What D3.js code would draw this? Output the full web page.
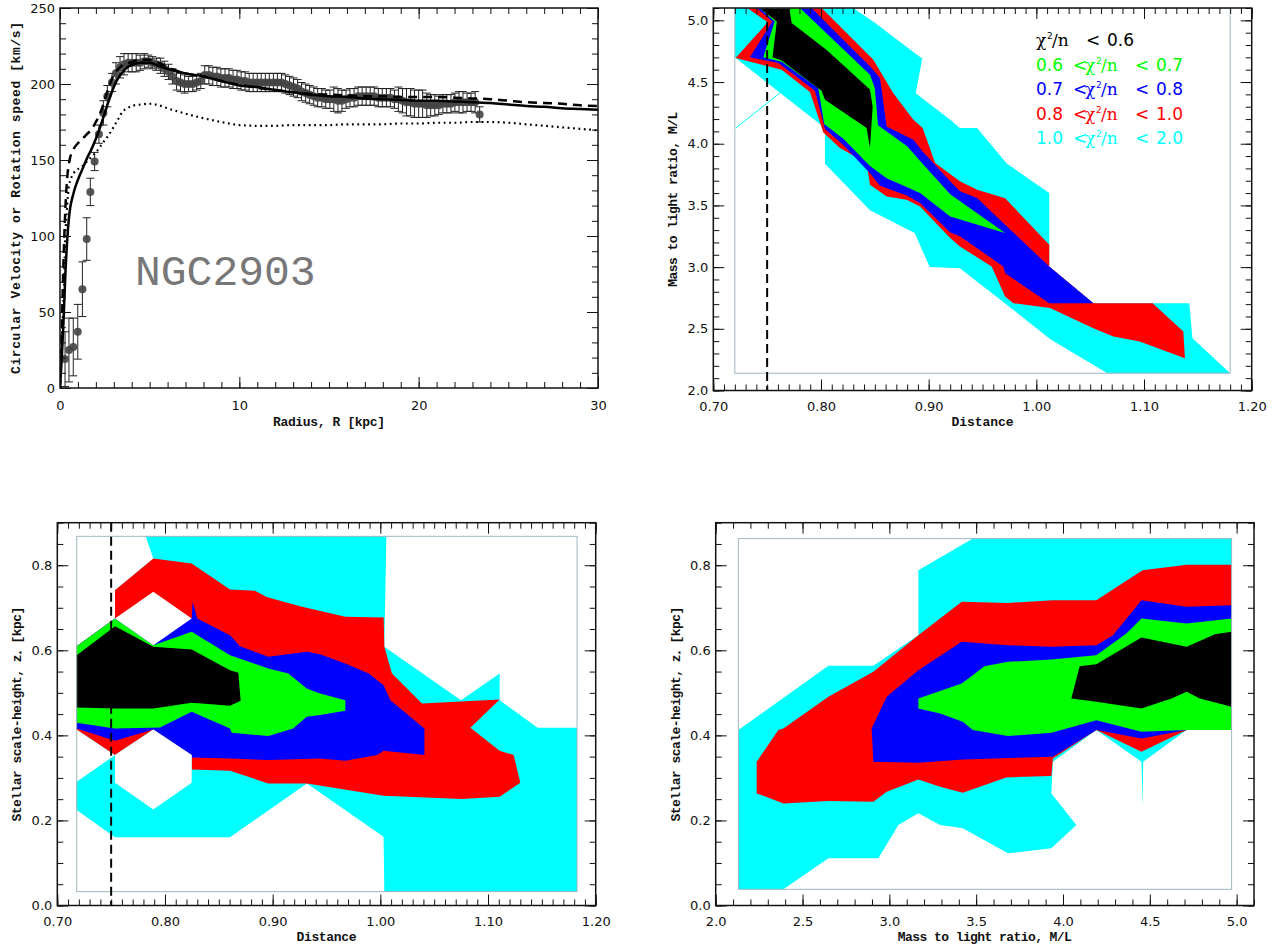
<!DOCTYPE html>
<html>
<head>
<meta charset="UTF-8">
<title>NGC2903 rotation curve and chi2 maps</title>
<script src="https://d3js.org/d3.v7.min.js"></script>
<style>
  body { margin: 0; background: #fff; }
  svg { display: block; }
  .axis .domain { display: none; }
  .axis line { stroke: #111; stroke-width: 1; }
  .axis text { font-family: "DejaVu Sans", sans-serif; font-size: 13px; fill: #111; }
  .frame { fill: none; stroke: #111; stroke-width: 1.5; }
  .title { font-family: "Liberation Mono", monospace; font-weight: bold; font-size: 13px; fill: #111; }
</style>
</head>
<body>
<script>
// ---- top-left: rotation curve data (R in kpc, v in km/s) ----
var obsR = [0.28,0.50,0.74,0.99,1.25,1.49,1.69,1.93,2.17,2.42,2.64,2.90,3.12,3.35,3.57,3.80,4.02,4.25,4.47,4.70,4.92,
  5.15,5.37,5.60,5.82,6.05,6.27,6.50,6.72,6.95,7.17,7.40,7.62,7.85,8.07,8.30,8.52,8.75,8.97,9.20,9.42,9.65,9.87,
  10.10,10.32,10.55,10.77,11.00,11.22,11.45,11.67,11.90,12.12,12.35,12.57,12.80,13.02,13.25,13.47,13.70,13.92,
  14.15,14.37,14.60,14.82,15.05,15.27,15.50,15.72,15.95,16.17,16.40,16.62,16.85,17.07,17.30,17.52,17.75,17.97,
  18.20,18.42,18.65,18.87,19.10,19.32,19.55,19.77,20.00,20.22,20.45,20.67,20.90,21.12,21.35,21.57,21.80,22.02,
  22.25,22.47,22.70,22.92,23.15,23.40];
var obsV = [19,25,27,37,65,98,129,149,167,181,192,201,207,211,213,214,214,214,214,215,215,
  214,213,212,210,208,205,202,201,200,200,200,201,202,206,206,205,205,204,204,204,203,203,
  202,202,201,201,201,201,201,201,201,201,201,200,199,198,197,195,194,193,
  192,191,191,190,190,190,189,189,190,191,191,192,192,192,192,192,191,191,
  191,191,190,190,189,188,188,187,187,187,186,186,186,186,187,187,187,188,
  188,188,188,188,188,180];
var obsErr = [18,21,19,18,18,14,9,6,6,8,7,6,7,7,7,6,6,6,5,5,4,
  4,4,5,5,5,5,6,6,6,5,5,5,5,6,6,6,6,6,6,6,6,6,
  6,6,6,6,6,6,6,6,6,6,6,6,6,6,6,6,6,6,
  6,6,6,6,6,8,8,7,6,6,6,6,6,6,6,6,6,6,
  6,6,6,8,8,9,9,9,9,9,8,7,7,6,6,6,6,6,
  7,7,6,6,7,5];

var modelR = [0,0.1,0.2,0.3,0.4,0.5,0.75,1.0,1.25,1.5,1.75,2.0,2.25,2.5,2.75,3.0,3.25,3.5,3.75,4.0,4.5,5.0,5.5,6.0,
  7,8,9,10,11,12,13,14,15,16,17,18,19,20,21,22,23,24,25,26,27,28,29,30];
var solidV = [0,20,45,75,97,112,128,137,144,151,157,164,172,181,190,198,204,208,211,212.5,214,214,212,210,
  207,205,202,199,198,196,194.5,193,192,191.5,190.5,190,189.5,189,189,188.5,188,187.5,186.5,185.5,185,184,183.5,183];
var dashedV = [0,40,85,118,138,148,157,161,164,167,170,175,181,190,199,206,210,212.5,213.5,214.5,216,216,214,211,
  207,205,202,199.5,197.5,196,194.5,193.5,193,192.5,192,192,191.5,191.5,191.5,191,190.5,190,189,188,187.5,187,186,185.5];
var dottedV = [0,30,60,100,120,133,141,144,146,149,152,155,159,163,167,172,177,182,184,185.5,186.5,187,186,184,
  180.5,177.5,175,173,172.5,172.5,173,173,173,173.5,173.5,173.5,174,174,174.5,174.5,175,175,174.5,173.5,172.5,171.5,170.5,169.5];

// ---- chi2 levels, outer (1.0-2.0) to inner (<0.6) ----
var levelColors = ["#00ffff", "#ff0000", "#0000ff", "#00ff00", "#000000"];
// legend rows, best fit first
var legendColors = ["#000000", "#00ff00", "#0000ff", "#ff0000", "#00ffff"];
var legendLow = [null, "0.6", "0.7", "0.8", "1.0"];
var legendHigh = ["0.6", "0.7", "0.8", "1.0", "2.0"];

// top-right: Distance vs M/L
var p2Cyan = [[0.72,5.1],[0.830,5.1],[0.850,4.98],[0.887,4.735],[0.894,4.69],[0.888,4.41],[0.920,4.195],[0.929,4.127],
  [0.945,4.127],[0.9725,3.84],[1.012,3.60],[1.012,3.0],[1.053,2.708],[1.142,2.708],[1.145,2.424],[1.18,2.14],[1.066,2.14],
  [1.013,2.416],[0.969,2.72],[0.929,2.99],[0.901,3.0],[0.887,3.276],[0.8455,3.46],[0.8037,3.838],[0.8037,4.127],[0.72,4.70]];
var p2Red = [[0.7316,5.1],[0.8006,5.1],[0.8486,4.681],[0.867,4.411],[0.8858,4.195],[0.8944,4.127],[0.906,3.843],[0.929,3.695],
  [0.945,3.627],[0.971,3.559],[1.012,3.181],[1.012,3.005],[1.053,2.708],[1.108,2.708],[1.1365,2.478],[1.138,2.262],
  [1.096,2.397],[1.0715,2.438],[1.053,2.505],[1.0127,2.668],[0.9786,2.708],[0.971,2.762],[0.9585,3.005],[0.929,3.168],
  [0.920,3.235],[0.892,3.492],[0.8796,3.546],[0.861,3.573],[0.8455,3.668],[0.8424,3.843],[0.8176,3.965],[0.8022,4.09],
  [0.7898,4.42],[0.7635,4.60],[0.7207,4.695],[0.7505,4.984]];
var p2Blue = [[0.7403,5.1],[0.7913,5.1],[0.8207,4.843],[0.8455,4.627],[0.8548,4.532],[0.861,4.14],[0.8858,4.032],[0.8944,3.938],
  [0.920,3.695],[0.929,3.614],[0.945,3.56],[0.9693,3.357],[1.012,3.005],[1.053,2.708],[1.012,2.708],[0.971,2.95],
  [0.9693,3.005],[0.929,3.25],[0.920,3.28],[0.892,3.52],[0.8796,3.58],[0.8548,3.66],[0.8455,3.76],[0.8207,3.99],
  [0.8037,4.12],[0.7944,4.43],[0.7604,4.654],[0.734,4.70],[0.7548,4.99]];
var p2Green = [[0.7433,5.1],[0.7805,5.1],[0.8455,4.56],[0.850,4.45],[0.853,4.15],[0.880,3.98],[0.890,3.88],[0.920,3.59],
  [0.971,3.276],[0.920,3.41],[0.892,3.60],[0.861,3.72],[0.8455,3.82],[0.8207,4.04],[0.803,4.16],[0.7975,4.45],
  [0.7635,4.665],[0.7464,4.70],[0.757,4.99]];
var p2Black = [[0.7433,5.1],[0.7706,5.1],[0.7728,4.978],[0.8053,4.76],[0.8455,4.44],[0.848,4.30],[0.8455,3.965],[0.8424,4.127],
  [0.8037,4.357],[0.8006,4.43],[0.7635,4.675],[0.755,4.70],[0.759,4.99]];
var p2Streak = [[0.7208,4.127],[0.7619,4.411]];
var p2Box = [[0.72,2.14],[1.18,5.1]];

// bottom-left: Distance vs scale height
var p3Cyan = [[0.782,0.868],[1.0056,0.868],[1.0037,0.6081],[1.0749,0.4828],[1.1108,0.5455],[1.1108,0.4828],[1.1461,0.4179],
  [1.1827,0.4179],[1.1827,0.0326],[1.0037,0.0326],[1.003,0.1618],[0.9318,0.2871],[0.8604,0.1602],[0.7536,0.1602],
  [0.718,0.2244],[0.718,0.291],[0.7536,0.3536],[0.718,0.414],[0.718,0.6097],[0.7536,0.6747],[0.7536,0.7413],[0.7892,0.8157]];
var p3Red = [[0.7536,0.7413],[0.7892,0.8157],[0.8248,0.8039],[0.8604,0.743],[0.8836,0.740],[0.8944,0.7256],[0.9254,0.7037],
  [0.9675,0.6786],[1.0031,0.6771],[1.0037,0.6081],[1.0108,0.5455],[1.0387,0.475],[1.1108,0.4844],[1.0836,0.4179],
  [1.1108,0.3638],[1.1238,0.3536],[1.130,0.2886],[1.1108,0.2558],[1.0758,0.2503],[1.0031,0.2581],[0.9318,0.2871],
  [0.896,0.2871],[0.8604,0.3168],[0.8248,0.32],[0.8248,0.3536],[0.7892,0.414],[0.7536,0.3536],[0.718,0.414],
  [0.718,0.6097],[0.7536,0.6747]];
var p3Blue = [[0.718,0.6097],[0.7536,0.6747],[0.8248,0.6747],[0.8257,0.7139],[0.83,0.6747],[0.8604,0.6355],[0.8697,0.6097],
  [0.896,0.5847],[0.9316,0.5964],[0.944,0.591],[0.9675,0.569],[0.9892,0.5455],[1.0031,0.5181],[1.0093,0.4828],
  [1.0409,0.4163],[1.0409,0.3536],[1.0031,0.3638],[0.9969,0.3536],[0.9675,0.3403],[0.944,0.3458],[0.896,0.3419],
  [0.8604,0.3458],[0.8248,0.348],[0.8248,0.3536],[0.7892,0.414],[0.7536,0.3873],[0.718,0.4163]];
var p3Green = [[0.718,0.6097],[0.7536,0.6747],[0.7892,0.612],[0.8248,0.6434],[0.8604,0.5886],[0.896,0.5572],[0.9146,0.5455],
  [0.9316,0.5102],[0.944,0.4985],[0.9675,0.4828],[0.9675,0.458],[0.944,0.4476],[0.9316,0.4437],[0.919,0.4163],
  [0.896,0.3983],[0.862,0.4061],[0.8604,0.4163],[0.8248,0.4555],[0.7954,0.4186],[0.7536,0.4163],[0.718,0.4296]];
var p3Black = [[0.718,0.5886],[0.7536,0.6567],[0.7892,0.6081],[0.8248,0.6019],[0.8604,0.5533],[0.8681,0.5471],[0.8703,0.4813],
  [0.8604,0.4695],[0.8248,0.4766],[0.7892,0.4633],[0.7536,0.4633],[0.718,0.4656]];
var p3HoleTop = [[0.7536,0.6747],[0.7892,0.7374],[0.8248,0.6747],[0.7892,0.612]];
var p3HoleLow = [[0.7892,0.414],[0.8248,0.3536],[0.8248,0.2886],[0.7892,0.226],[0.7536,0.2886],[0.7536,0.3536]];
var p3Box = [[0.718,0.0326],[1.1827,0.868]];

// bottom-right: M/L vs scale height
var p4Cyan = [[2.1305,0.4124],[2.649,0.5635],[2.908,0.5635],[3.167,0.6355],[3.167,0.7883],[3.481,0.8626],[4.971,0.8626],
  [4.971,0.4124],[4.712,0.4124],[4.462,0.338],[4.458,0.232],[4.452,0.338],[4.192,0.4124],[3.942,0.338],[3.933,0.2636],
  [4.077,0.1892],[3.933,0.1344],[3.683,0.1226],[3.423,0.1814],[3.292,0.1892],[3.167,0.2166],[3.052,0.1892],
  [2.937,0.1109],[2.649,0.1109],[2.39,0.0381],[2.1305,0.0381]];
var p4Red = [[2.236,0.338],[2.361,0.4124],[2.39,0.4163],[2.649,0.4907],[2.908,0.5494],[3.167,0.6355],[3.417,0.7139],
  [3.683,0.7115],[3.942,0.7178],[4.192,0.7178],[4.458,0.7883],[4.712,0.8014],[4.971,0.8014],[4.971,0.4124],
  [4.712,0.4124],[4.452,0.3615],[4.192,0.4124],[3.942,0.3458],[3.933,0.3043],[3.673,0.3012],[3.423,0.2652],
  [3.292,0.2793],[3.167,0.2964],[2.985,0.2675],[2.908,0.244],[2.649,0.2456],[2.39,0.2401],[2.236,0.2636]];
var p4Blue = [[2.898,0.4163],[2.985,0.4907],[3.167,0.5533],[3.417,0.6199],[3.683,0.612],[3.933,0.6081],[4.192,0.612],
  [4.288,0.6355],[4.452,0.7178],[4.712,0.7021],[4.971,0.706],[4.971,0.4124],[4.712,0.4124],[4.452,0.3928],
  [4.192,0.4124],[3.942,0.3497],[3.423,0.3435],[3.167,0.3357],[2.908,0.338]];
var p4Green = [[3.167,0.4868],[3.417,0.522],[3.548,0.5627],[3.683,0.5729],[3.933,0.5784],[4.192,0.5886],[4.365,0.6395],
  [4.452,0.6747],[4.712,0.663],[4.971,0.6747],[4.971,0.4124],[4.712,0.4124],[4.452,0.4084],[4.192,0.4358],
  [3.933,0.4061],[3.683,0.3983],[3.481,0.4124],[3.423,0.4319],[3.292,0.4515],[3.167,0.4633]];
var p4Black = [[4.096,0.5627],[4.192,0.5674],[4.452,0.630],[4.712,0.6081],[4.875,0.6379],[4.971,0.6434],[4.971,0.4672],
  [4.788,0.4868],[4.712,0.5024],[4.625,0.4868],[4.452,0.4633],[4.192,0.479],[4.048,0.4868]];
var p4Box = [[2.1305,0.0381],[4.971,0.8626]];

var bestDistance = 0.75;

// tick values
var radiusTicks = [0, 10, 20, 30], speedTicks = [0, 50, 100, 150, 200, 250];
var distTicks = [0.70, 0.80, 0.90, 1.00, 1.10, 1.20];
var mlTicks = [2.0, 2.5, 3.0, 3.5, 4.0, 4.5, 5.0];
var zTicks = [0.0, 0.2, 0.4, 0.6, 0.8];

var svg = d3.select("body").append("svg").attr("width", 1275).attr("height", 950);

function makePanel(id, box, xd, yd) {
    var x = d3.scaleLinear().domain(xd).range([box.l, box.r]);
    var y = d3.scaleLinear().domain(yd).range([box.b, box.t]);
    svg.append("clipPath").attr("id", id).append("rect")
        .attr("x", box.l).attr("y", box.t).attr("width", box.r - box.l).attr("height", box.b - box.t);
    var plot = svg.append("g").attr("clip-path", "url(#" + id + ")");
    return { x: x, y: y, plot: plot, box: box };
}

function drawAxes(p, o) {
    var b = p.box;
    var g = svg.append("g").attr("class", "axis");
    function add(gen, tr) { g.append("g").attr("transform", tr).call(gen); }
    add(d3.axisBottom(p.x).tickValues(o.xMinor).tickSize(-6).tickFormat(""), "translate(0," + b.b + ")");
    add(d3.axisBottom(p.x).tickValues(o.xMajor).tickSize(-11).tickPadding(o.xPad).tickFormat(o.xFmt), "translate(0," + b.b + ")");
    add(d3.axisTop(p.x).tickValues(o.xMinor).tickSize(-6).tickFormat(""), "translate(0," + b.t + ")");
    add(d3.axisTop(p.x).tickValues(o.xMajor).tickSize(-11).tickFormat(""), "translate(0," + b.t + ")");
    add(d3.axisLeft(p.y).tickValues(o.yMinor).tickSize(-6).tickFormat(""), "translate(" + b.l + ",0)");
    add(d3.axisLeft(p.y).tickValues(o.yMajor).tickSize(-11).tickPadding(5).tickFormat(o.yFmt), "translate(" + b.l + ",0)");
    add(d3.axisRight(p.y).tickValues(o.yMinor).tickSize(-6).tickFormat(""), "translate(" + b.r + ",0)");
    add(d3.axisRight(p.y).tickValues(o.yMajor).tickSize(-11).tickFormat(""), "translate(" + b.r + ",0)");
    svg.append("rect").attr("class", "frame")
        .attr("x", b.l).attr("y", b.t).attr("width", b.r - b.l).attr("height", b.b - b.t);

    svg.append("text").attr("class", "title").attr("text-anchor", "middle")
        .attr("x", (b.l + b.r) / 2).attr("y", o.xTitleY)
        .attr("textLength", o.xTitleLen).attr("lengthAdjust", "spacing")
        .text(o.xTitle);
    var yt = svg.append("text").attr("class", "title").attr("text-anchor", "middle")
        .attr("transform", "translate(" + o.yTitleX + "," + (b.t + b.b) / 2 + ") rotate(-90)")
        .attr("textLength", o.yTitleLen).attr("lengthAdjust", "spacing");
    if (o.yTitleSub) {
        yt.append("tspan").text(o.yTitle[0]);
        yt.append("tspan").attr("dy", 3).attr("font-size", 8).text(o.yTitleSub);
        yt.append("tspan").attr("dy", -3).text(o.yTitle[1]);
    } else {
        yt.text(o.yTitle);
    }
}

function minorRange(a, b, s) {
    return d3.range(Math.round((b - a) / s) + 1).map(function (i) { return a + i * s; });
}

function drawLevels(p, polys) {
    var line = d3.line().x(function (d) { return p.x(d[0]); }).y(function (d) { return p.y(d[1]); })
        .curve(d3.curveLinearClosed);
    polys.forEach(function (poly, i) {
        p.plot.append("path").attr("d", line(poly)).attr("fill", levelColors[i]).attr("stroke", "none");
    });
    return line;
}

function drawBox(p, box) {
    p.plot.append("rect")
        .attr("x", p.x(box[0][0])).attr("y", p.y(box[1][1]))
        .attr("width", p.x(box[1][0]) - p.x(box[0][0])).attr("height", p.y(box[0][1]) - p.y(box[1][1]))
        .attr("fill", "none").attr("stroke", "#9fb6be").attr("stroke-width", 1);
}

function drawBestLine(p) {
    p.plot.append("line")
        .attr("x1", p.x(bestDistance)).attr("x2", p.x(bestDistance))
        .attr("y1", p.box.t).attr("y2", p.box.b)
        .attr("stroke", "#000").attr("stroke-width", 2).attr("stroke-dasharray", "9,5");
}

// ---------- panel 1 ----------
var p1 = makePanel("c1", { l: 60, r: 598, t: 8, b: 388 }, [0, 30], [0, 250]);

p1.plot.append("text")
    .attr("x", 135).attr("y", 285)
    .style("font-family", "'Liberation Mono', monospace").style("font-size", "43px")
    .attr("fill", "#777").text("NGC2903");

var bars = p1.plot.append("g").attr("stroke", "#222").attr("stroke-width", 1);
obsR.forEach(function (r, i) {
    var xx = p1.x(r), y1 = p1.y(obsV[i] - obsErr[i]), y2 = p1.y(obsV[i] + obsErr[i]);
    bars.append("line").attr("x1", xx).attr("x2", xx).attr("y1", y1).attr("y2", y2);
    bars.append("line").attr("x1", xx - 4).attr("x2", xx + 4).attr("y1", y1).attr("y2", y1);
    bars.append("line").attr("x1", xx - 4).attr("x2", xx + 4).attr("y1", y2).attr("y2", y2);
});
p1.plot.append("g").selectAll("circle").data(obsR).join("circle")
    .attr("cx", function (d) { return p1.x(d); })
    .attr("cy", function (d, i) { return p1.y(obsV[i]); })
    .attr("r", 4).attr("fill", "#444").attr("fill-opacity", 0.9);

function curve(vals) {
    return d3.line().x(function (d, i) { return p1.x(modelR[i]); }).y(function (d) { return p1.y(d); })
        .curve(d3.curveMonotoneX)(vals);
}
p1.plot.append("path").attr("d", curve(dottedV)).attr("fill", "none").attr("stroke", "#000")
    .attr("stroke-width", 2.2).attr("stroke-dasharray", "1.8,3.6");
p1.plot.append("path").attr("d", curve(dashedV)).attr("fill", "none").attr("stroke", "#000")
    .attr("stroke-width", 2.5).attr("stroke-dasharray", "9,6");
p1.plot.append("path").attr("d", curve(solidV)).attr("fill", "none").attr("stroke", "#000")
    .attr("stroke-width", 2.5);

drawAxes(p1, {
    xMajor: radiusTicks, xMinor: minorRange(0, 30, 1), xFmt: d3.format("d"), xPad: 13,
    yMajor: speedTicks, yMinor: minorRange(0, 250, 10), yFmt: d3.format("d"),
    xTitle: "Radius, R [kpc]", xTitleY: 426, xTitleLen: 112,
    yTitle: "Circular Velocity or Rotation speed [km/s]", yTitleX: 20, yTitleLen: 352
});

// ---------- panel 2 ----------
var p2 = makePanel("c2", { l: 713.3, r: 1251.7, t: 8, b: 390.5 }, [0.7, 1.2], [2.0, 5.1]);
drawLevels(p2, [p2Cyan, p2Red, p2Blue, p2Green, p2Black]);
p2.plot.append("line")
    .attr("x1", p2.x(p2Streak[0][0])).attr("y1", p2.y(p2Streak[0][1]))
    .attr("x2", p2.x(p2Streak[1][0])).attr("y2", p2.y(p2Streak[1][1]))
    .attr("stroke", "#00ffff").attr("stroke-width", 1);
drawBox(p2, p2Box);
drawBestLine(p2);

// legend
var legend = svg.append("g").style("font-size", "17px");
legendHigh.forEach(function (hi, i) {
    var t = legend.append("text").attr("y", 46 + i * 24.5).attr("fill", legendColors[i]);
    var x0 = 1036;
    if (legendLow[i] !== null) {
        t.append("tspan").attr("x", x0).style("font-family", "'DejaVu Sans'").text(legendLow[i]);
        t.append("tspan").attr("x", x0 + 37).style("font-family", "'DejaVu Sans'").text("<");
        x0 += 49;
    }
    t.append("tspan").attr("x", x0).style("font-family", "'DejaVu Serif'").text("\u03c7");
    t.append("tspan").attr("x", x0 + 11).attr("dy", -7).style("font-family", "'DejaVu Sans'").style("font-size", "9px").text("2");
    t.append("tspan").attr("x", x0 + 16).attr("dy", 7).style("font-family", "'DejaVu Serif'").text("/n");
    t.append("tspan").attr("x", x0 + 50).style("font-family", "'DejaVu Sans'").text("<");
    t.append("tspan").attr("x", x0 + 71).style("font-family", "'DejaVu Sans'").text(hi);
});

drawAxes(p2, {
    xMajor: distTicks, xMinor: minorRange(0.7, 1.2, 0.01), xFmt: d3.format(".2f"), xPad: 11,
    yMajor: mlTicks, yMinor: minorRange(2.0, 5.1, 0.1), yFmt: d3.format(".1f"),
    xTitle: "Distance", xTitleY: 426, xTitleLen: 62,
    yTitle: "Mass to light ratio, M/L", yTitleX: 677, yTitleLen: 175
});

// ---------- panel 3 ----------
var p3 = makePanel("c3", { l: 57.3, r: 595.7, t: 522.7, b: 905.5 }, [0.7, 1.2], [0, 0.9]);
var l3 = drawLevels(p3, [p3Cyan, p3Red, p3Blue, p3Green, p3Black]);
[p3HoleTop, p3HoleLow].forEach(function (h) {
    p3.plot.append("path").attr("d", l3(h)).attr("fill", "#fff");
});
drawBox(p3, p3Box);
drawBestLine(p3);
drawAxes(p3, {
    xMajor: distTicks, xMinor: minorRange(0.7, 1.2, 0.01), xFmt: d3.format(".2f"), xPad: 11,
    yMajor: zTicks, yMinor: minorRange(0, 0.9, 0.05), yFmt: d3.format(".1f"),
    xTitle: "Distance", xTitleY: 941, xTitleLen: 60,
    yTitle: ["Stellar scale-height, z", " [kpc]"], yTitleSub: "*", yTitleX: 21, yTitleLen: 215
});

// ---------- panel 4 ----------
var p4 = makePanel("c4", { l: 715.7, r: 1254, t: 522.7, b: 905.5 }, [2.0, 5.1], [0, 0.9]);
drawLevels(p4, [p4Cyan, p4Red, p4Blue, p4Green, p4Black]);
drawBox(p4, p4Box);
drawAxes(p4, {
    xMajor: mlTicks, xMinor: minorRange(2.0, 5.1, 0.1), xFmt: d3.format(".1f"), xPad: 11,
    yMajor: zTicks, yMinor: minorRange(0, 0.9, 0.05), yFmt: d3.format(".1f"),
    xTitle: "Mass to light ratio, M/L", xTitleY: 941, xTitleLen: 174,
    yTitle: ["Stellar scale-height, z", " [kpc]"], yTitleSub: "*", yTitleX: 680, yTitleLen: 215
});
</script>
</body>
</html>
